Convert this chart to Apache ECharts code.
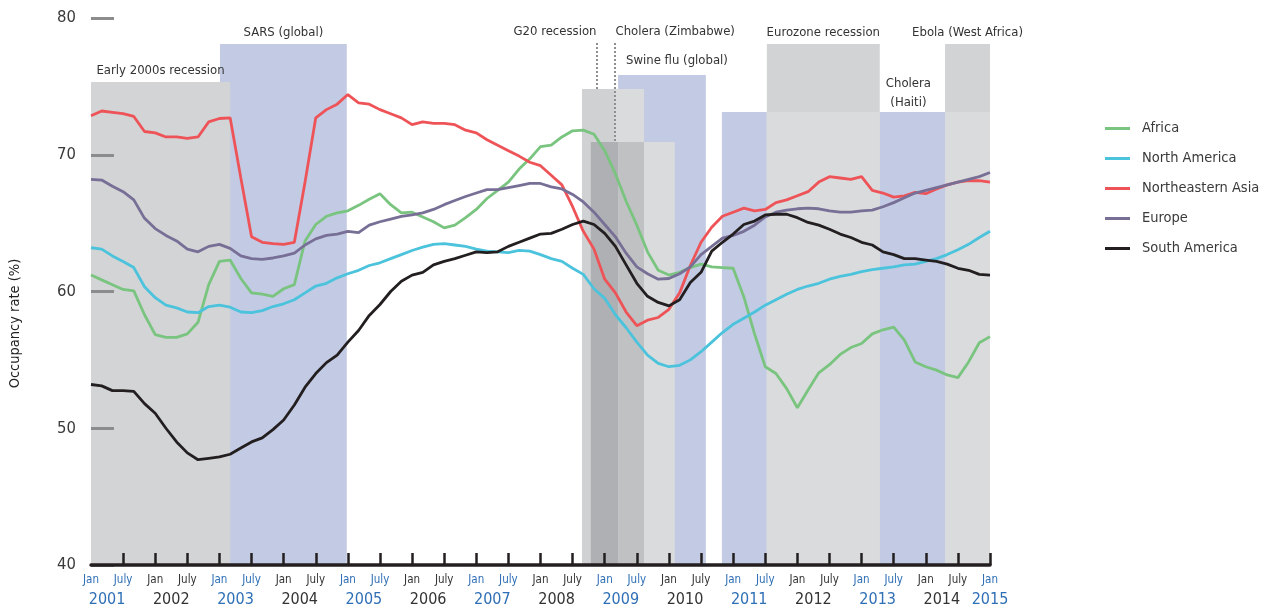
<!DOCTYPE html>
<html>
<head>
<meta charset="utf-8">
<script src="https://cdn.jsdelivr.net/npm/echarts@6/dist/echarts.min.js"></script>
<style>
html,body{margin:0;padding:0;background:#fff;}
#chart{width:1271px;height:614px;}
</style>
</head>
<body>
<div id="chart"></div>
<script>
// ---------- DATA ----------
// x positions: months since Jan 2001 (every 2 months)
const monthsSinceJan2001 = [0,2,4,6,8,10,12,14,16,18,20,22,24,26,28,30,32,34,36,38,40,42,
  44,46,48,50,52,54,56,58,60,62,64,66,68,70,72,74,76,78,80,82,84,
  86,88,90,92,94,96,98,100,102,104,106,108,110,112,114,116,118,120,122,124,126,
  128,130,132,134,136,138,140,142,144,146,148,150,152,154,156,158,160,162,164,166,168];

const seriesNames = ['Africa','North America','Northeastern Asia','Europe','South America'];

const africa = [61.2,60.85,60.5,60.15,60.05,58.3,56.85,56.65,56.65,56.9,57.75,60.5,62.2,62.3,60.95,59.9,59.8,59.65,60.2,60.5,63.7,64.9,
  65.5,65.75,65.9,66.3,66.75,67.15,66.35,65.75,65.8,65.45,65.1,64.65,64.85,65.4,66.0,66.8,67.4,68.0,68.95,69.7,70.6,
  70.7,71.3,71.75,71.8,71.5,70.3,68.6,66.6,64.85,62.9,61.55,61.2,61.4,61.75,62.0,61.8,61.75,61.7,59.6,56.9,54.5,
  54.0,52.9,51.5,52.8,54.05,54.65,55.4,55.9,56.2,56.9,57.2,57.4,56.45,54.85,54.5,54.25,53.9,53.7,54.85,56.25,56.7];

const northAmerica = [63.2,63.1,62.6,62.2,61.75,60.35,59.55,59.0,58.8,58.5,58.45,58.9,59.0,58.85,58.5,58.45,58.6,58.9,59.1,59.4,59.9,60.4,
  60.6,61.0,61.3,61.55,61.9,62.1,62.4,62.7,63.0,63.25,63.45,63.5,63.4,63.3,63.1,62.95,62.9,62.85,63.0,62.95,62.7,
  62.4,62.2,61.7,61.25,60.2,59.5,58.3,57.35,56.3,55.35,54.75,54.5,54.6,55.0,55.6,56.3,57.0,57.6,58.05,58.5,59.0,
  59.4,59.8,60.15,60.4,60.6,60.9,61.1,61.25,61.45,61.6,61.7,61.8,61.95,62.0,62.2,62.4,62.7,63.05,63.45,63.95,64.4];

const northeasternAsia = [72.85,73.2,73.1,73.0,72.8,71.7,71.6,71.3,71.3,71.2,71.3,72.4,72.65,72.7,68.3,64.0,63.6,63.5,63.45,63.6,68.0,72.7,
  73.3,73.7,74.4,73.8,73.7,73.3,73.0,72.7,72.2,72.4,72.3,72.3,72.2,71.8,71.6,71.1,70.7,70.3,69.9,69.45,69.2,
  68.5,67.8,66.2,64.4,63.1,60.9,59.9,58.5,57.5,57.9,58.1,58.7,59.9,61.9,63.6,64.7,65.5,65.8,66.1,65.9,66.0,
  66.5,66.7,67.0,67.3,68.0,68.4,68.3,68.2,68.4,67.4,67.2,66.9,67.0,67.25,67.15,67.5,67.8,68.0,68.1,68.1,68.0];

const europe = [68.2,68.15,67.7,67.3,66.7,65.35,64.6,64.1,63.7,63.1,62.9,63.3,63.45,63.15,62.6,62.4,62.35,62.45,62.6,62.8,63.4,63.85,
  64.1,64.2,64.4,64.3,64.85,65.1,65.3,65.5,65.6,65.75,66.0,66.35,66.65,66.95,67.2,67.45,67.45,67.6,67.75,67.9,67.9,
  67.65,67.5,67.1,66.55,65.8,64.9,64.0,62.8,61.8,61.3,60.9,60.95,61.3,61.8,62.7,63.3,63.9,64.1,64.4,64.85,65.45,
  65.8,65.95,66.05,66.1,66.05,65.9,65.8,65.8,65.9,65.95,66.2,66.5,66.85,67.2,67.4,67.6,67.8,68.0,68.2,68.4,68.7];

const southAmerica = [53.2,53.1,52.75,52.75,52.7,51.8,51.1,50.0,49.0,48.2,47.7,47.8,47.9,48.1,48.55,49.0,49.3,49.9,50.6,51.7,53.0,54.0,
  54.8,55.35,56.3,57.15,58.25,59.05,60.0,60.75,61.2,61.4,61.95,62.2,62.4,62.65,62.9,62.85,62.9,63.3,63.6,63.9,64.2,
  64.25,64.55,64.9,65.15,64.9,64.25,63.3,61.95,60.6,59.65,59.2,58.95,59.4,60.65,61.4,62.95,63.6,64.2,64.9,65.15,65.6,
  65.65,65.65,65.4,65.05,64.85,64.55,64.2,63.95,63.6,63.4,62.9,62.7,62.4,62.4,62.3,62.2,62.0,61.7,61.55,61.25,61.2];

// Shaded event bands: start month, end month, top value (occupancy scale)
const bandStart = [24.1, 0, 98.5, 91.75, 97.9, 93.4, 98.5, 103.35, 117.9, 147.4, 126.3, 126.3, 159.6, 159.6];
const bandEnd   = [47.8, 26.0, 114.9, 97.9, 103.35, 98.5, 103.35, 109.1, 126.3, 159.6, 147.4, 147.4, 168, 168];
const bandTop   = [78.1, 75.32, 75.83, 74.81, 74.81, 70.93, 70.93, 70.93, 73.13, 73.13, 78.1, 73.13, 78.1, 73.13];
const bandKind  = ['epidemic','recession','epidemic','g20','overlapLight','overlapDark','overlapMid','overlapLight',
                   'epidemic','epidemic','recession2','overlapLight','recession2','overlapLight'];
const bandLabel = ['SARS (global)','Early 2000s recession','Swine flu (global)','','','','','',
                   '','Cholera\n(Haiti)','Eurozone recession','','Ebola (West Africa)',''];

// Leader-line events (dotted lines): month, label
const leaderMonths = [94.56, 97.92];
const leaderTexts  = ['G20 recession', 'Cholera (Zimbabwe)'];
const leaderFrom   = [78.17, 78.17];
const leaderTo     = [74.81, 70.93];
const leaderLabelValue = 78.98;

// axis labels
const monthLabelMonths = [0,6,12,18,24,30,36,42,48,54,60,66,72,78,84,90,96,102,108,114,120,126,132,138,144,150,156,162,168];
const tickMonths = [6,12,18,24,30,36,42,48,54,60,66,72,78,84,90,96,102,108,114,120,126,132,138,144,150,156,162,168];
const yearLabelMonths = [3,15,27,39,51,63,75,87,99,111,123,135,147,159,168];
const yearLabels = ['2001','2002','2003','2004','2005','2006','2007','2008','2009','2010','2011','2012','2013','2014','2015'];

// ---------- STYLE ----------
const FONT = "'Liberation Sans Narrow', 'DejaVu Sans Condensed', 'Roboto', sans-serif";
const lineColors = ['#79c47f', '#4cc3dc', '#ee5358', '#776f96', '#231f20'];
const kindColor = {
  epidemic: '#c3cae3', recession: '#d3d4d6', recession2: '#d2d3d5', g20: '#d0d1d3',
  overlapLight: '#dadbdc', overlapDark: '#afb0b3', overlapMid: '#c0c1c3'
};
const BLUE = '#2f6fb6', DARK = '#333333';
const labelOffsets = {'Swine flu (global)': [15, -2.5], 'Cholera\n(Haiti)': [-4, 2.5]};

const allValues = [africa, northAmerica, northeasternAsia, europe, southAmerica];

const markAreaData = bandStart.map((s, i) => {
  const lab = bandLabel[i];
  return [
    {
      xAxis: s, yAxis: bandTop[i],
      itemStyle: {color: kindColor[bandKind[i]], opacity: 1},
      label: lab ? {
        show: true, position: 'top', distance: 2, formatter: lab,
        fontSize: 13, color: '#333', fontFamily: FONT, lineHeight: 19,
        offset: labelOffsets[lab] || [0, 0]
      } : {show: false}
    },
    {xAxis: bandEnd[i], yAxis: 40}
  ];
});

const markLineData = leaderMonths.map((m, i) => [
  {coord: [m, leaderFrom[i]]}, {coord: [m, leaderTo[i]]}
]);

const markPointData = leaderMonths.map((m, i) => ({
  coord: [m, leaderLabelValue],
  symbol: 'rect', symbolSize: 1,
  itemStyle: {color: 'rgba(0,0,0,0)'},
  label: {
    show: true, position: i === 0 ? 'left' : 'right', distance: 0,
    formatter: leaderTexts[i], fontSize: 13, color: '#333', fontFamily: FONT
  }
}));

const lineSeries = seriesNames.map((name, k) => ({
  name: name, type: 'line', xAxisIndex: 0, yAxisIndex: 0,
  data: monthsSinceJan2001.map((m, i) => [m, allValues[k][i]]),
  symbol: 'none', showSymbol: false, z: 3,
  lineStyle: {color: lineColors[k], width: 2.8},
  itemStyle: {color: lineColors[k]},
  emphasis: {disabled: true}
}));

const option = {
  animation: false,
  textStyle: {fontFamily: FONT},
  grid: {left: 91, right: 281, top: 18, bottom: 49, containLabel: false},
  legend: {
    orient: 'vertical', left: 1100, top: 116,
    icon: 'rect', itemWidth: 25, itemHeight: 3, itemGap: 15,
    data: seriesNames,
    textStyle: {fontSize: 14.5, color: '#3a3a3a', fontFamily: FONT, padding: [0, 0, 0, 7]},
    selectedMode: false
  },
  xAxis: [
    {
      type: 'value', min: 0, max: 168, interval: 6, position: 'bottom', z: 6,
      axisLine: {show: true, onZero: false, lineStyle: {color: '#231f20', width: 3.5}},
      axisTick: {show: true, inside: true, length: 12, customValues: tickMonths,
                 lineStyle: {color: '#231f20', width: 2.5}},
      splitLine: {show: false},
      axisLabel: {
        customValues: monthLabelMonths, margin: 9,
        formatter: function (v) {
          const yr = 2001 + Math.floor(v / 12);
          const mo = (v % 12 === 0) ? 'Jan' : 'July';
          return '{' + (yr % 2 === 1 ? 'b' : 'k') + '|' + mo + '}';
        },
        rich: {
          b: {color: BLUE, fontSize: 11.5, fontFamily: FONT},
          k: {color: DARK, fontSize: 11.5, fontFamily: FONT}
        }
      }
    },
    {
      type: 'value', min: 0, max: 168, position: 'bottom', offset: 22,
      axisLine: {show: false}, axisTick: {show: false}, splitLine: {show: false},
      axisLabel: {
        customValues: yearLabelMonths, margin: 5,
        formatter: function (v) {
          const idx = yearLabelMonths.indexOf(v);
          const y = yearLabels[idx];
          return '{' + (idx % 2 === 0 ? 'b' : 'k') + '|' + y + '}';
        },
        rich: {
          b: {color: BLUE, fontSize: 16, fontFamily: FONT},
          k: {color: DARK, fontSize: 16, fontFamily: FONT}
        }
      }
    }
  ],
  yAxis: {
    type: 'value', min: 40, max: 80, interval: 10, z: 4,
    axisLine: {show: false},
    axisTick: {show: true, inside: true, length: 23, lineStyle: {color: '#8c8c8c', width: 3}},
    splitLine: {show: false},
    axisLabel: {fontSize: 16.5, color: '#3a3a3a', margin: 15, fontFamily: FONT},
    name: 'Occupancy rate (%)', nameLocation: 'middle', nameGap: 68,
    nameTextStyle: {fontSize: 14.5, color: '#222', fontFamily: FONT, padding: [0, 64, 0, 0]}
  },
  series: [
    {
      name: 'events', type: 'line', data: [], z: 1, silent: true,
      markArea: {silent: true, data: markAreaData},
      markLine: {
        silent: true, symbol: ['none', 'none'],
        lineStyle: {type: 'dotted', color: '#8f8f8f', width: 2},
        label: {show: false}, data: markLineData
      },
      markPoint: {silent: true, data: markPointData}
    }
  ].concat(lineSeries)
};

const chart = echarts.init(document.getElementById('chart'), null, {renderer: 'canvas'});
chart.setOption(option);
</script>
</body>
</html>
